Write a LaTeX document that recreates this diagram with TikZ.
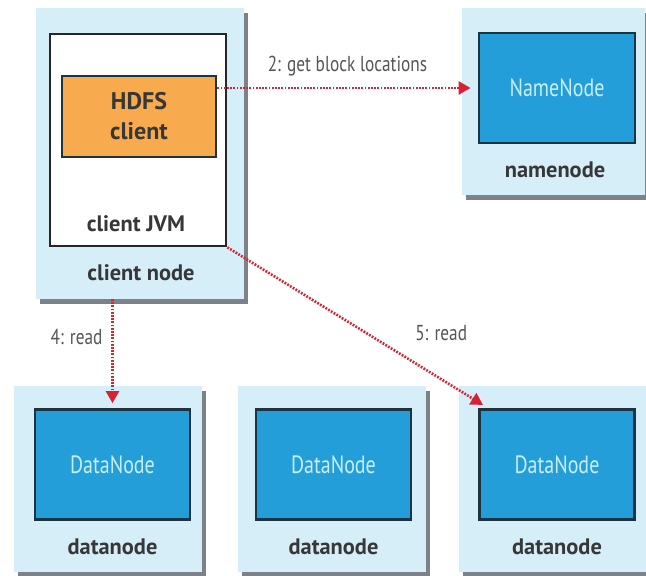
\documentclass[tikz,border=0pt]{standalone}
\usepackage{fontspec}
\setmainfont{PT Sans}
\newfontfamily\narrowfont[FakeStretch=0.8]{PT Sans}
\usetikzlibrary{arrows.meta}
\definecolor{hostblue}{RGB}{214,238,248}
\definecolor{procblue}{RGB}{36,158,216}
\definecolor{procedge}{RGB}{28,52,66}
\definecolor{clientorange}{RGB}{247,170,78}
\definecolor{readred}{RGB}{214,34,52}
\definecolor{labelgrey}{RGB}{55,55,55}
\definecolor{nntext}{RGB}{200,238,252}
\definecolor{shadowgrey}{RGB}{125,130,136}
\tikzset{
  host/.style={fill=hostblue, inner sep=0pt, outer sep=0pt},
  daemon/.style={fill=procblue, draw=procedge, line width=1.4pt, inner sep=0pt,
    minimum width=77.5pt, minimum height=55pt, text=nntext,
    font=\narrowfont\fontsize{12.5}{14}\selectfont},
  hostlabel/.style={font=\bfseries\fontsize{11.2}{13}\selectfont, text=labelgrey},
  readarrow/.style={-{Triangle[length=6pt,width=6.5pt]}, readred, line width=1.3pt,
    dash pattern=on 0.9pt off 0.7pt},
  steplabel/.style={font=\narrowfont\fontsize{10.8}{12}\selectfont, text=labelgrey!85}
}
\begin{document}
\begin{tikzpicture}[x=0.5pt, y=-0.5pt]
  \useasboundingbox (0,0) rectangle (646,576);
  % shadows of the hosts
  \foreach \cx/\cy/\w/\h in {140/153.5/208/291, 553.5/101.5/183/187,
      108/479/188/186, 332/479/188/186, 553/479/188/186}
    \fill[shadowgrey] (\cx-\w/2+4,\cy-\h/2+5) rectangle (\cx+\w/2+4,\cy+\h/2+5);
  % client side
  \node[host, minimum width=104pt, minimum height=145.5pt] (client) at (140,153.5) {};
  \node[fill=white, draw=black!85, line width=1.4pt, inner sep=0pt,
        minimum width=88pt, minimum height=106pt] (jvm) at (138,140) {};
  \node[fill=clientorange, draw=procedge, line width=1.4pt, inner sep=0pt,
        minimum width=77pt, minimum height=40.5pt, align=center,
        font=\bfseries\fontsize{12}{15}\selectfont, text=labelgrey] (hdfs) at (139,116.5) {HDFS\\client};
  \node[hostlabel] (jvmlabel) at (136,224) {client JVM};
  \node[hostlabel] (clientlabel) at (141,273) {client node};
  % namenode
  \node[host, minimum width=91.5pt, minimum height=93.5pt] (nnhost) at (553.5,101.5) {};
  \node[daemon, minimum width=78pt] (nn) at (557,88) {NameNode};
  \node[hostlabel] (nnlabel) at (555,170) {namenode};
  % datanodes
  \foreach \i/\x/\ix in {1/108/112.5, 2/332/333.5, 3/553/557}{
    \node[host, minimum width=94pt, minimum height=93pt] (dnhost\i) at (\x,479) {};
    \node[daemon] (dn\i) at (\ix,464.5) {DataNode};
    \node[hostlabel] (dnlabel\i) at (\ix,547) {datanode};
  }
  % reads
  \draw[readarrow, shorten >=3.5pt] (hdfs.east |- nn.west) -- (nn.west)
    node[midway, above=2pt, steplabel]{2: get block locations};
  \draw[readarrow, shorten >=2.5pt] (dn1.north |- client.south) -- (dn1.north)
    node[pos=0.35, left=1pt, steplabel]{4: read};
  \draw[readarrow, shorten >=3pt] (jvm.south east) -- ([xshift=5pt]dn3.north west)
    node[pos=0.69, anchor=south west, yshift=5pt, steplabel]{5: read};
\end{tikzpicture}
\end{document}
